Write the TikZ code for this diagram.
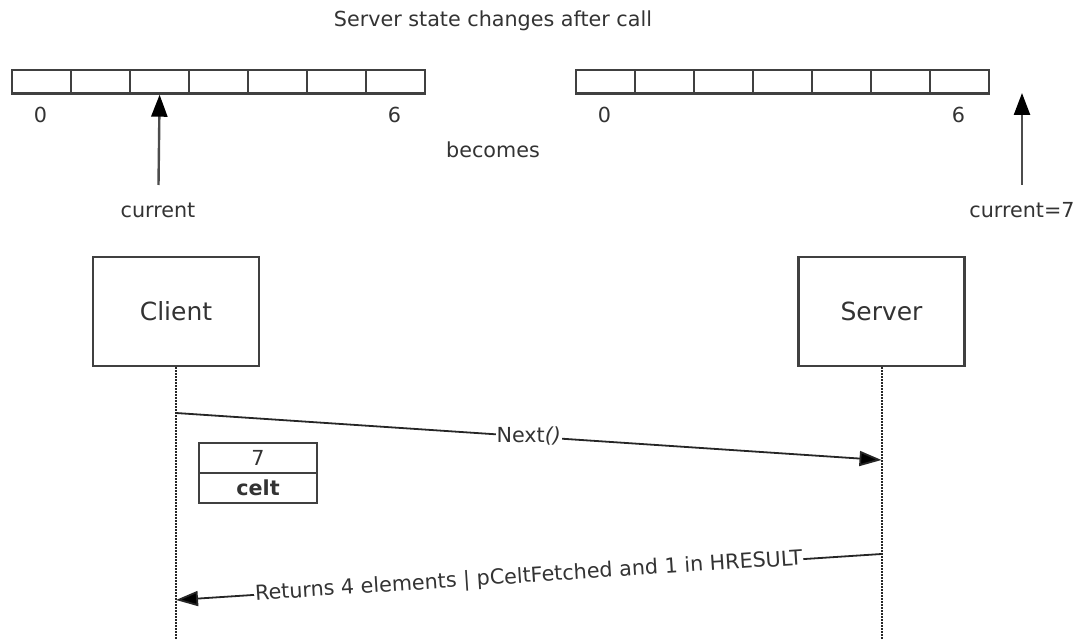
\documentclass[tikz,border=0pt]{standalone}
\usepackage{fontspec}
\setmainfont{DejaVu Sans}
\usetikzlibrary{arrows.meta,positioning}

\begin{document}
\begin{tikzpicture}[x=1pt, y=-1pt,
   every node/.style={text=black!80, font=\fontsize{20.7}{24}\selectfont},
   line/.style={draw=black!75, line width=2.2pt},
   cell/.style={line, minimum width=59pt, minimum height=23.5pt, inner sep=0pt, anchor=north west},
   actor/.style={line, minimum width=166pt, minimum height=109pt, font=\fontsize{25}{30}\selectfont},
   slot/.style={line, minimum width=118pt, minimum height=30pt, inner sep=0pt, outer sep=0pt},
   lifeline/.style={black!85, line width=2pt, dash pattern=on 1.5pt off 1.5pt},
   msg/.style={black!85, line width=1.8pt, -{Triangle[length=22pt, width=15pt, fill=black]}},
   pointer/.style={black!70, line width=2.4pt, -{Triangle[length=22pt, width=16pt, fill=black, color=black]}},
   msglabel/.style={fill=white, inner sep=1pt}]

\useasboundingbox (0,0) rectangle (1077,639);

\node (title) at (493,21) {Server state changes after call};

% array before the call
\foreach \i in {0,...,6}
   \node[cell] (old\i) at ({11+59*\i},69) {};
\node (oldFirst) at (40.5,115) {0};
\node (oldLast) at (394.5,115) {6};
\coordinate (oldTail) at (158.5,185);
\draw[pointer] (oldTail) -- (old2.south);
\node (oldCur) at (158,210) {current};

\node (becomes) at (493,150) {becomes};

% array after the call
\foreach \i in {0,...,6}
   \node[cell] (new\i) at ({575+59*\i},69) {};
\node (newFirst) at (604.5,115) {0};
\node (newLast) at (958.5,115) {6};
\coordinate (newTail) at (1022,185);
\coordinate (newTip) at (1022,93);
\draw[pointer] (newTail) -- (newTip);
\node (newCur) at (1022,210) {current=7};

% actors
\node[actor] (client) at (176,311.5) {Client};
\node[actor] (server) at (881.5,311.5) {Server};
\coordinate (clientEnd) at (176,639);
\coordinate (serverEnd) at (881.5,639);
\draw[lifeline] (client.south) -- (clientEnd);
\draw[lifeline] (server.south) -- (serverEnd);

% call
\coordinate (callOut) at (176,413);
\coordinate (callIn) at (881.5,460);
\draw[msg] (callOut) -- node[msglabel] {Next\textit{()}} (callIn);

\node[slot] (celtVal) at (258,458) {7};
\node[slot, below=0pt of celtVal] (celtName) {\textbf{celt}};

% reply
\coordinate (replyOut) at (881.5,554);
\coordinate (replyIn) at (176,600);
\draw[msg] (replyOut) -- node[msglabel, sloped] {Returns 4 elements | pCeltFetched and 1 in HRESULT} (replyIn);

\end{tikzpicture}
\end{document}
